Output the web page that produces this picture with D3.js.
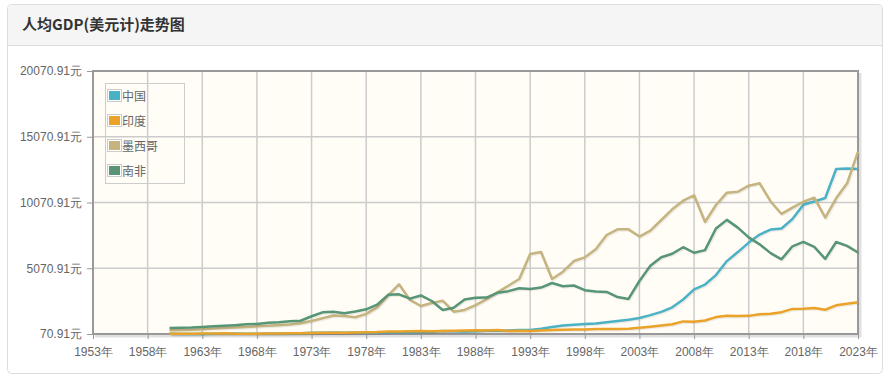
<!DOCTYPE html>
<html><head><meta charset="utf-8">
<script src="https://cdn.jsdelivr.net/npm/d3@7/dist/d3.min.js"></script>
<style>
body{margin:0;background:#fff;}
svg{font-family:"Noto Sans CJK SC","Noto Sans",sans-serif;}
</style>
</head><body>
<svg id="chart" width="889" height="381"></svg>
<script>
const title = "人均GDP(美元计)走势图";
const seriesNames = ["中国","印度","墨西哥","南非"];
const seriesColors = ["#4bb2c5","#EAA228","#c5b47f","#579575"];
const years = [1960,1961,1962,1963,1964,1965,1966,1967,1968,1969,1970,1971,1972,1973,1974,1975,1976,1977,1978,1979,
1980,1981,1982,1983,1984,1985,1986,1987,1988,1989,1990,1991,1992,1993,1994,1995,1996,1997,1998,1999,
2000,2001,2002,2003,2004,2005,2006,2007,2008,2009,2010,2011,2012,2013,2014,2015,2016,2017,2018,2019,
2020,2021,2022,2023];
const china = [89.5,75.8,70.91,74.3,85.5,98.5,104.3,96.6,91.5,100.1,113.2,118.7,131.9,157.1,160.1,178.3,165.4,185.4,156.4,183.9,
194.8,197.1,203.3,225.4,250.7,294.5,281.9,251.8,283.5,310.9,317.9,333.1,366.5,377.4,473.5,609.7,709.4,781.7,828.6,873.3,
959.4,1053.1,1148.5,1288.6,1508.7,1753.4,2099.2,2693.9,3468.3,3832.2,4550.5,5614.4,6300.6,7020.4,7636.1,8016.4,8094.4,8817.0,9905.4,10143.9,
10408.7,12617.5,12662.6,12614.1];
const india = [82.2,85.4,90.0,101.1,116.0,119.0,89.9,96.0,99.2,107.4,112.4,119.0,122.6,143.3,163.3,158.0,161.2,186.4,206.1,224.6,
266.6,270.5,274.1,291.2,276.7,296.4,310.5,340.4,354.2,346.1,368.8,303.1,316.9,301.2,346.2,373.8,399.9,415.5,413.3,441.9,
443.3,451.6,470.9,546.7,627.8,714.9,806.8,1028.3,998.5,1101.9,1357.6,1458.1,1443.9,1449.6,1573.9,1605.6,1732.6,1980.7,1996.9,2050.2,
1913.2,2250.2,2366.3,2484.8];
const mexico = [350,373,394,431,497,527,569,606,652,696,740,795,885,1060,1270,1480,1440,1340,1600,2100,
3000,3850,2660,2200,2430,2600,1770,1900,2270,2710,3240,3740,4250,6155,6300,4250,4810,5620,5900,6510,
7600,8030,8030,7480,7930,8740,9550,10208,10620,8590,9880,10816,10890,11350,11530,10150,9200,9676,10130,10436,
8917,10390,11530,13936];
const southAfrica = [527,543,563,606,657,701,745,805,837,924,960,1040,1080,1420,1720,1760,1650,1780,1950,2300,
3050,3090,2760,3000,2580,1900,2060,2690,2820,2840,3200,3330,3550,3500,3600,3950,3700,3760,3400,3300,
3270,2880,2740,4100,5260,5910,6170,6670,6250,6450,8090,8750,8160,7420,6890,6220,5750,6740,7070,6700,
5780,7070,6770,6270];
const xTicks = [1953,1958,1963,1968,1973,1978,1983,1988,1993,1998,2003,2008,2013,2018,2023];
const yTicks = [70.91,5070.91,10070.91,15070.91,20070.91];

const seriesData = [china, india, mexico, southAfrica];

const svg = d3.select("#chart");
// card
svg.append("rect").attr("x",7.5).attr("y",4.5).attr("width",875).attr("height",369)
  .attr("rx",4).attr("fill","#fff").attr("stroke","#dddddd");
svg.append("path").attr("d","M8,45 L8,9 Q8,5 12,5 L878,5 Q882,5 882,9 L882,45 Z").attr("fill","#f5f5f5");
svg.append("line").attr("x1",8).attr("x2",882).attr("y1",45.5).attr("y2",45.5).attr("stroke","#dddddd");
svg.append("text").attr("x",22).attr("y",30).attr("font-size",15).attr("font-weight","bold")
  .attr("fill","#333").text(title);

const L=93, R=858, T=71, B=334;
const x = d3.scaleLinear().domain([xTicks[0], xTicks[xTicks.length-1]]).range([L,R]);
const y = d3.scaleLinear().domain([yTicks[0], yTicks[yTicks.length-1]]).range([B,T]);

svg.append("rect").attr("x",L).attr("y",T).attr("width",R-L).attr("height",B-T).attr("fill","#fffdf6");

// grid
const g = svg.append("g");
g.selectAll(".vg").data(xTicks).join("line")
  .attr("x1",d=>x(d)).attr("x2",d=>x(d)).attr("y1",T).attr("y2",B)
  .attr("stroke","#cccccc").attr("stroke-width",1.5);
g.selectAll(".hg").data(yTicks).join("line")
  .attr("x1",L).attr("x2",R).attr("y1",d=>y(d)).attr("y2",d=>y(d))
  .attr("stroke","#cccccc").attr("stroke-width",1.5);

// border shadow
svg.append("path").attr("d",`M${L+2},${B+2} L${R+2},${B+2} L${R+2},${T+2}`)
  .attr("fill","none").attr("stroke","rgba(0,0,0,0.12)").attr("stroke-width",3);
svg.append("rect").attr("x",L).attr("y",T).attr("width",R-L).attr("height",B-T)
  .attr("fill","none").attr("stroke","#999999").attr("stroke-width",2);

// axes
const yAxis = d3.axisLeft(y).tickValues(yTicks).tickSize(5).tickPadding(5)
  .tickFormat(d=>d.toFixed(2)+"元");
const ya = svg.append("g").attr("transform",`translate(${L-1},0)`).call(yAxis);
ya.select(".domain").remove();
ya.selectAll("line").attr("stroke","#999");
ya.selectAll("text").attr("font-size",12).attr("fill","#666").attr("font-family","Liberation Sans, Arial, sans-serif");

const xAxis = d3.axisBottom(x).tickValues(xTicks).tickSize(4).tickPadding(8)
  .tickFormat(d=>d+"年");
const xa = svg.append("g").attr("transform",`translate(0,${B+1})`).call(xAxis);
xa.select(".domain").remove();
xa.selectAll("line").attr("stroke","#999");
xa.selectAll("text").attr("font-size",12).attr("fill","#666").attr("font-family","Liberation Sans, Arial, sans-serif");

// lines
const line = d3.line().x((d,i)=>x(years[i])).y(d=>y(d));
const lg = svg.append("g");
seriesData.forEach((s,k)=>{
  lg.append("path").datum(s).attr("d",line).attr("fill","none")
    .attr("stroke","rgba(0,0,0,0.07)").attr("stroke-width",2.5)
    .attr("transform","translate(1.2,1.2)").attr("stroke-linejoin","round");
  lg.append("path").datum(s).attr("d",line).attr("fill","none")
    .attr("stroke",seriesColors[k]).attr("stroke-width",2.5).attr("stroke-linejoin","round");
});

// legend
const leg = svg.append("g");
leg.append("rect").attr("x",105.5).attr("y",83.5).attr("width",79).attr("height",100)
  .attr("fill","none").attr("stroke","#cccccc");
seriesNames.forEach((n,i)=>{
  const cy = 96 + i*25;
  leg.append("rect").attr("x",107.5).attr("y",cy-6.5).attr("width",14).attr("height",12)
    .attr("fill","#fff").attr("stroke","#cccccc");
  leg.append("rect").attr("x",109).attr("y",cy-5).attr("width",11).attr("height",9)
    .attr("fill",seriesColors[i]);
  leg.append("text").attr("x",122).attr("y",cy+4.5).attr("font-size",12).attr("fill","#666").text(n);
});
</script>
</body></html>
